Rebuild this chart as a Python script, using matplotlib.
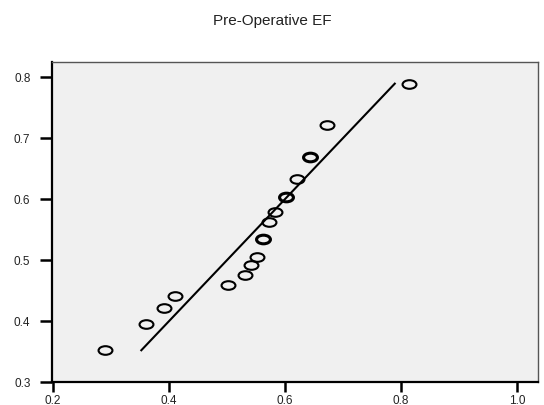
import numpy as np
import matplotlib
matplotlib.use("Agg")
import matplotlib.pyplot as plt
from matplotlib.path import Path

plt.rcParams['font.family'] = ['Liberation Sans', 'DejaVu Sans']

observed = [0.290, 0.360, 0.391, 0.410, 0.501, 0.531, 0.541, 0.552, 0.561,
            0.572, 0.582, 0.602, 0.621, 0.642, 0.672, 0.813]
expected = [0.352, 0.395, 0.421, 0.441, 0.459, 0.475, 0.491, 0.505, 0.534,
            0.563, 0.579, 0.604, 0.633, 0.669, 0.721, 0.789]
counts = [1, 1, 1, 1, 1, 1, 1, 1, 2, 1, 1, 2, 1, 2, 1, 1]

xticks = [0.2, 0.4, 0.6, 0.8, 1.0]
yticks = [0.3, 0.4, 0.5, 0.6, 0.7, 0.8]

fig = plt.figure(figsize=(5.44, 4.06), dpi=100)
ax = fig.add_axes([0.0956, 0.0567, 0.8934, 0.7883])
ax.set_facecolor('#f0f0f0')

# elliptical open marker
circ = Path.unit_circle()
ellipse = Path(circ.vertices * np.array([1.0, 0.62]), circ.codes)

# reference line y = x over the expected range
lo, hi = min(expected), max(expected)
ax.plot([lo, hi], [lo, hi], color='black', lw=1.5, zorder=2)

obs = np.array(observed)
exp_ = np.array(expected)
cnt = np.array(counts)
for c, lw in [(1, 1.5), (2, 2.2)]:
    m = cnt == c
    ax.plot(obs[m], exp_[m], linestyle='none', marker=ellipse, markersize=10,
            markerfacecolor='none', markeredgecolor='black',
            markeredgewidth=lw, zorder=3)

ax.set_xlim(0.198, 1.036)
ax.set_ylim(0.3, 0.8246)
ax.set_xticks(xticks)
ax.set_yticks(yticks)
ax.set_xticklabels([f'{v:.1f}' for v in xticks])
ax.set_yticklabels([f'{v:.1f}' for v in yticks])

for s in ['left', 'bottom']:
    ax.spines[s].set_linewidth(1.6)
    ax.spines[s].set_color('black')
for s in ['top', 'right']:
    ax.spines[s].set_linewidth(1.0)
    ax.spines[s].set_color('#555555')

ax.tick_params(axis='both', direction='out', length=8.5, width=1.8,
               labelsize=8.5, colors='black', labelcolor='#222222')
ax.tick_params(axis='y', pad=7)
ax.tick_params(axis='x', length=7, pad=1.5)

fig.text(0.5, 0.948, 'Pre-Operative EF', ha='center', va='center',
         fontsize=11, color='#222222')

fig.savefig('out.png', dpi=100)
